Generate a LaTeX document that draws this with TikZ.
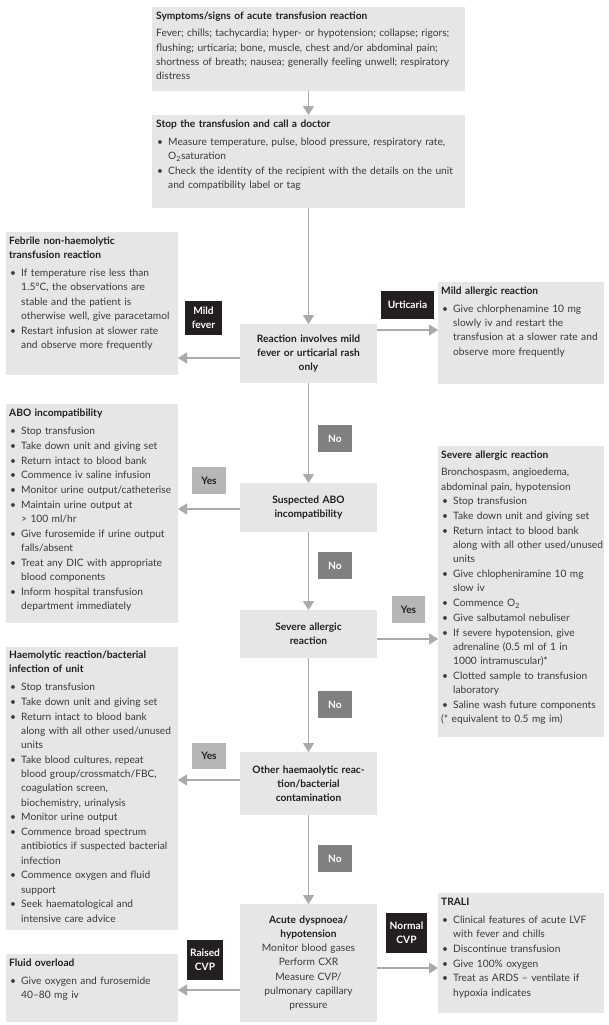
\documentclass[tikz,border=0pt]{standalone}
\usepackage{fontspec}
\setmainfont{Lato}
\usetikzlibrary{arrows.meta}
\definecolor{boxgray}{RGB}{230,230,231}
\definecolor{arrowgray}{RGB}{170,170,170}
\definecolor{labblack}{RGB}{35,31,32}
\definecolor{nogray}{RGB}{128,128,128}
\definecolor{yesgray}{RGB}{182,182,182}
\definecolor{txtc}{RGB}{58,58,58}
\definecolor{ttlc}{RGB}{35,31,32}
\newcommand{\fs}{\fontsize{10.2}{14.2}\selectfont\hyphenpenalty=10000\exhyphenpenalty=10000}
\newcommand{\ttl}[1]{{\bfseries\color{ttlc}#1}\par\vspace{3pt}}
\newcommand{\itm}[1]{\par\vspace{0.6pt}\hangindent=12pt\hangafter=1\noindent\makebox[12pt][l]{\hspace{1pt}\textbullet}#1}
\tikzset{
  box/.style={fill=boxgray, draw=none, inner sep=0pt, outer sep=0pt, anchor=north west},
  body/.style={anchor=north west, inner sep=0pt, align=left, text=txtc, font=\fs, text width=320pt},
  dec/.style={fill=boxgray, draw=none, inner sep=0pt, outer sep=0pt, align=center, text=ttlc, font=\fs\bfseries, text width=133pt},
  arr/.style={draw=arrowgray, line width=1.6pt, -{Triangle[width=11pt,length=9pt]}},
  lblk/.style={fill=labblack, text=white, font=\fs\bfseries, align=center, inner sep=0pt},
  lno/.style={fill=nogray, text=white, font=\fs\bfseries, align=center, inner sep=0pt, minimum width=34pt, minimum height=27pt},
  lyes/.style={fill=yesgray, text=ttlc, font=\fs\bfseries, align=center, inner sep=0pt, minimum width=34pt, minimum height=27pt}
}
\begin{document}
\begin{tikzpicture}[x=1pt,y=-1pt]
\fill[white] (0,0) rectangle (608,1025);
\useasboundingbox (0,0) rectangle (608,1025);

% ---------- side / top boxes ----------
\node[box, minimum width=313pt, minimum height=84pt] (s1) at (152,7) {};
\node[body] (s1t) at ([xshift=4pt,yshift=-5pt]s1.north west) {%
\ttl{Symptoms/signs of acute transfusion reaction}%
\noindent Fever; chills; tachycardia; hyper- or hypotension; collapse; rigors;\newline
flushing; urticaria; bone, muscle, chest and/or abdominal pain;\newline
shortness of breath; nausea; generally feeling unwell; respiratory\newline
distress\par};

\node[box, minimum width=313pt, minimum height=93pt] (s2) at (152,115) {};
\node[body] (s2t) at ([xshift=4pt,yshift=-5pt]s2.north west) {%
\ttl{Stop the transfusion and call a doctor}%
\itm{Measure temperature, pulse, blood pressure, respiratory rate,\newline O\textsubscript{2}saturation}%
\itm{Check the identity of the recipient with the details on the unit\newline and compatibility label or tag}\par};

\node[box, minimum width=172pt, minimum height=143pt] (feb) at (6,232) {};
\node[body] (febt) at ([xshift=3pt,yshift=-5pt]feb.north west) {%
\ttl{Febrile non-haemolytic\newline transfusion reaction}%
\itm{If temperature rise less than\newline 1.5°C, the observations are\newline stable and the patient is\newline otherwise well, give paracetamol}%
\itm{Restart infusion at slower rate\newline and observe more frequently}\par};

\node[box, minimum width=166pt, minimum height=102pt] (mild) at (438,282) {};
\node[body] (mildt) at ([xshift=3pt,yshift=-5pt]mild.north west) {%
\ttl{Mild allergic reaction}%
\itm{Give chlorphenamine 10 mg\newline slowly iv and restart the\newline transfusion at a slower rate and\newline observe more frequently}\par};

\node[box, minimum width=172pt, minimum height=219pt] (abo) at (6,404) {};
\node[body] (abot) at ([xshift=3pt,yshift=-5pt]abo.north west) {%
\ttl{ABO incompatibility}%
\itm{Stop transfusion}%
\itm{Take down unit and giving set}%
\itm{Return intact to blood bank}%
\itm{Commence iv saline infusion}%
\itm{Monitor urine output/catheterise}%
\itm{Maintain urine output at\newline > 100 ml/hr}%
\itm{Give furosemide if urine output\newline falls/absent}%
\itm{Treat any DIC with appropriate\newline blood components}%
\itm{Inform hospital transfusion\newline department immediately}\par};

\node[box, minimum width=166pt, minimum height=291pt] (sevr) at (438,446) {};
\node[body] (sevrt) at ([xshift=3pt,yshift=-5pt]sevr.north west) {%
\ttl{Severe allergic reaction}%
\noindent Bronchospasm, angioedema,\newline abdominal pain, hypotension%
\itm{Stop transfusion}%
\itm{Take down unit and giving set}%
\itm{Return intact to blood bank\newline along with all other used/unused\newline units}%
\itm{Give chlopheniramine 10 mg\newline slow iv}%
\itm{Commence O\textsubscript{2}}%
\itm{Give salbutamol nebuliser}%
\itm{If severe hypotension, give\newline adrenaline (0.5 ml of 1 in\newline 1000 intramuscular)*}%
\itm{Clotted sample to transfusion\newline laboratory}%
\itm{Saline wash future components}%
\par\noindent (* equivalent to 0.5 mg im)\par};

\node[box, minimum width=172pt, minimum height=283pt] (haem) at (6,647) {};
\node[body] (haemt) at ([xshift=3pt,yshift=-4pt]haem.north west) {%
\ttl{Haemolytic reaction/bacterial\newline infection of unit}%
\itm{Stop transfusion}%
\itm{Take down unit and giving set}%
\itm{Return intact to blood bank\newline along with all other used/unused\newline units}%
\itm{Take blood cultures, repeat\newline blood group/crossmatch/FBC,\newline coagulation screen,\newline biochemistry, urinalysis}%
\itm{Monitor urine output}%
\itm{Commence broad spectrum\newline antibiotics if suspected bacterial\newline infection}%
\itm{Commence oxygen and fluid\newline support}%
\itm{Seek haematological and\newline intensive care advice}\par};

\node[box, minimum width=172pt, minimum height=68pt] (fluid) at (6,954) {};
\node[body] (fluidt) at ([xshift=3pt,yshift=-5pt]fluid.north west) {%
\ttl{Fluid overload}%
\itm{Give oxygen and furosemide\newline 40–80 mg iv}\par};

\node[box, minimum width=166pt, minimum height=120pt] (trali) at (438,893) {};
\node[body] (tralit) at ([xshift=3pt,yshift=-5pt]trali.north west) {%
\ttl{TRALI}%
\itm{Clinical features of acute LVF\newline with fever and chills}%
\itm{Discontinue transfusion}%
\itm{Give 100\% oxygen}%
\itm{Treat as ARDS – ventilate if\newline hypoxia indicates}\par};

% ---------- decision boxes ----------
\node[dec, minimum width=137pt, minimum height=59pt] (react) at (308.5,353.5) {Reaction involves mild\\ fever or urticarial rash\\ only};
\node[dec, minimum width=137pt, minimum height=49pt] (sus) at (308.5,507.5) {Suspected ABO\\ incompatibility};
\node[dec, minimum width=137pt, minimum height=48pt] (sev) at (308.5,634) {Severe allergic\\ reaction};
\node[dec, minimum width=137pt, minimum height=63pt] (other) at (308.5,783.5) {Other haemaolytic reac-\\ tion/bacterial\\ contamination};
\node[dec, minimum width=137pt, minimum height=118pt, font=\fs] (acute) at (308.5,963) {{\bfseries Acute dyspnoea/\\ hypotension}\\ \color{txtc}Monitor blood gases\\ Perform CXR\\ Measure CVP/\\ pulmonary capillary\\ pressure};

% ---------- labels ----------
\node[lblk, minimum width=37pt, minimum height=34pt] (lmf) at (203.5,318) {Mild\\ fever};
\node[lblk, minimum width=53pt, minimum height=28pt] (lurt) at (407.5,305) {Urticaria};
\node[lno] (lno1) at (335,438.5) {No};
\node[lyes] (lyes1) at (209,480.5) {Yes};
\node[lno] (lno2) at (335,565.5) {No};
\node[lyes, minimum width=33pt] (lyes2) at (408.5,609.5) {Yes};
\node[lno] (lno3) at (335,704.5) {No};
\node[lyes, minimum height=26pt] (lyes3) at (209,756) {Yes};
\node[lno] (lno4) at (335,858.5) {No};
\node[lblk, minimum width=36pt, minimum height=40pt] (lrc) at (205,960) {Raised\\ CVP};
\node[lblk, minimum width=41pt, minimum height=40pt] (lnc) at (406.5,933) {Normal\\ CVP};

% ---------- connectors ----------
\draw[arr] (s1) -- (s2);
\draw[arr] (s2) -- (react);
\draw[arr] (react) -- (sus);
\draw[arr] (sus) -- (sev);
\draw[arr] (sev) -- (other);
\draw[arr] (other) -- (acute);

\coordinate (c1) at ([yshift=-4.5pt]react.west);
\draw[arr] (c1) -- (c1 -| feb.east);
\coordinate (c2) at ([yshift=23.5pt]react.east);
\draw[arr] (c2) -- (c2 -| mild.west);
\coordinate (c3) at ([yshift=-1.5pt]sus.west);
\draw[arr] (c3) -- (c3 -| abo.east);
\coordinate (c4) at ([yshift=-5pt]sev.east);
\draw[arr] (c4) -- (c4 -| sevr.west);
\coordinate (c5) at ([yshift=3.5pt]other.west);
\draw[arr] (c5) -- (c5 -| haem.east);
\coordinate (c6) at ([yshift=-27pt]acute.west);
\draw[arr] (c6) -- (c6 -| fluid.east);
\coordinate (c7) at ([yshift=-5pt]acute.east);
\draw[arr] (c7) -- (c7 -| trali.west);
\end{tikzpicture}
\end{document}
